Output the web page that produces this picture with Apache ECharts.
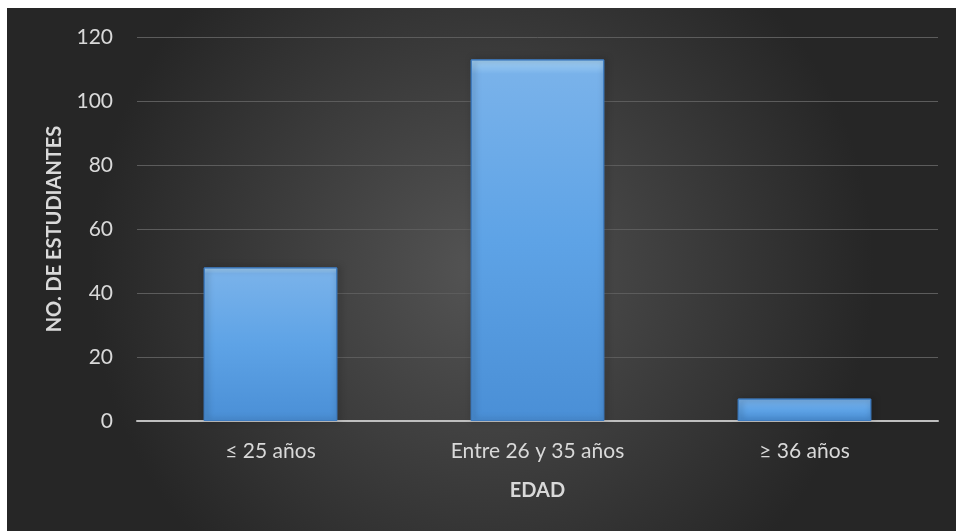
<!DOCTYPE html>
<html>
<head>
<meta charset="utf-8">
<script src="https://cdn.jsdelivr.net/npm/echarts@6/dist/echarts.min.js"></script>
<style>
html,body{margin:0;padding:0;background:#fff;width:956px;height:531px;overflow:hidden}
#c{position:absolute;left:7px;top:8px;width:949px;height:523px}
</style>
</head>
<body>
<div id="c"></div>
<script>
const categories = ['≤ 25 años', 'Entre 26 y 35 años', '≥ 36 años'];
const values = [48, 113, 7];
const yTicks = { min: 0, max: 120, interval: 20 };
const xTitle = 'EDAD';
const yTitle = 'NO. DE ESTUDIANTES';

const chart = echarts.init(document.getElementById('c'), null, { renderer: 'canvas' });
const font = 'Lato, "Open Sans", "Liberation Sans", sans-serif';
chart.setOption({
  backgroundColor: {
    type: 'radial', x: 0.5, y: 0.5, r: 0.75,
    colorStops: [
      { offset: 0, color: '#545454' },
      { offset: 1, color: '#262626' }
    ]
  },
  grid: { left: 130, right: 18, top: 29, bottom: 110 },
  xAxis: {
    type: 'category',
    data: categories,
    name: xTitle,
    nameLocation: 'middle',
    nameGap: 60,
    nameTextStyle: { color: '#d9d9d9', fontSize: 20, fontWeight: 'bold', fontFamily: font },
    axisLine: { lineStyle: { color: '#bfbfbf', width: 2 } },
    axisTick: { show: false },
    axisLabel: { color: '#d9d9d9', fontSize: 21, fontFamily: font, margin: 20 }
  },
  yAxis: {
    type: 'value',
    min: yTicks.min, max: yTicks.max, interval: yTicks.interval,
    name: yTitle,
    nameLocation: 'middle',
    nameGap: 72,
    nameRotate: 90,
    nameTextStyle: { color: '#d9d9d9', fontSize: 20, fontWeight: 'bold', fontFamily: font },
    axisLine: { show: false },
    axisTick: { show: false },
    axisLabel: { color: '#d9d9d9', fontSize: 21, fontFamily: font, margin: 24 },
    splitLine: { lineStyle: { color: '#5c5c5c', width: 1 } }
  },
  series: [{
    type: 'bar',
    data: values,
    barWidth: '50%',
    itemStyle: {
      color: {
        type: 'linear', x: 0, y: 0, x2: 0, y2: 1,
        colorStops: [
          { offset: 0, color: '#a6d4f7' },
          { offset: 0.04, color: '#79b2ea' },
          { offset: 0.5, color: '#5ea3e6' },
          { offset: 1, color: '#4a8fd6' }
        ]
      },
      borderColor: '#3f7cc0',
      borderWidth: 1,
      shadowColor: 'rgba(0,0,0,0.5)',
      shadowBlur: 6,
      shadowOffsetX: 2,
      shadowOffsetY: 0
    }
  }]
});
</script>
</body>
</html>
